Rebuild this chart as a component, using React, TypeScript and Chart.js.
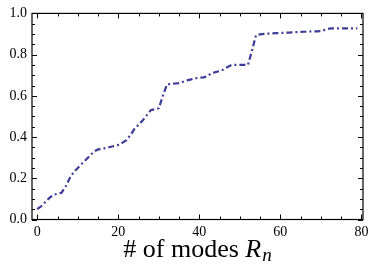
import React, { useEffect, useRef } from "react";
import { Chart, registerables } from "chart.js";

Chart.register(...registerables);

const modes: number[] = [
  0, 1, 2, 3, 4, 5, 6, 7, 8, 9, 10, 11, 12, 13, 14, 15, 16, 17, 18, 19,
  20, 21, 22, 23, 24, 25, 26, 27, 28, 29, 30, 31, 32, 33, 34, 35, 36, 37, 38, 39,
  40, 41, 42, 43, 44, 45, 46, 47, 48, 49, 50, 51, 52, 53, 54, 55, 56, 57, 58, 59,
  60, 61, 62, 63, 64, 65, 66, 67, 68, 69, 70, 71, 72, 73, 74, 75, 76, 77, 78, 79,
];
const values: number[] = [
  0.05, 0.065, 0.085, 0.105, 0.12, 0.125, 0.13, 0.16, 0.2, 0.23,
  0.25, 0.27, 0.29, 0.31, 0.33, 0.34, 0.343, 0.347, 0.352, 0.357,
  0.362, 0.372, 0.385, 0.41, 0.44, 0.46, 0.48, 0.505, 0.53, 0.535,
  0.54, 0.6, 0.655, 0.658, 0.66, 0.662, 0.668, 0.675, 0.68, 0.685,
  0.688, 0.69, 0.695, 0.71, 0.715, 0.72, 0.728, 0.74, 0.75, 0.75,
  0.75, 0.75, 0.75, 0.82, 0.895, 0.898, 0.901, 0.902, 0.903, 0.904,
  0.905, 0.906, 0.907, 0.908, 0.909, 0.91, 0.911, 0.912, 0.913, 0.913,
  0.914, 0.92, 0.926, 0.927, 0.927, 0.927, 0.927, 0.927, 0.927, 0.927,
];
const xMajorTicks: number[] = [0, 20, 40, 60, 80];
const xMinorTicks: number[] = [5, 10, 15, 25, 30, 35, 45, 50, 55, 65, 70, 75];
const yMajorTicks: number[] = [0, 0.2, 0.4, 0.6, 0.8, 1.0];
const yMinorTicks: number[] = [
  0.05, 0.1, 0.15, 0.25, 0.3, 0.35, 0.45, 0.5, 0.55, 0.65, 0.7, 0.75, 0.85, 0.9, 0.95,
];
const titleMain = "# of modes ";
const titleVar = "R";
const titleSub = "n";

const SERIF = "'Liberation Serif', 'DejaVu Serif', serif";

const framePlugin = {
  id: "frameTicks",
  afterDraw(chart: any) {
    const { ctx, chartArea } = chart;
    const { left, right, top, bottom } = chartArea;
    const xs = chart.scales.x;
    const ys = chart.scales.y;
    ctx.save();
    ctx.strokeStyle = "#000";
    ctx.lineWidth = 1;
    ctx.beginPath();
    const seg = (x1: number, y1: number, x2: number, y2: number) => {
      ctx.moveTo(x1, y1);
      ctx.lineTo(x2, y2);
    };
    const drawX = (vals: number[], len: number) => {
      vals.forEach((v) => {
        const p = Math.round(xs.getPixelForValue(v)) + 0.5;
        seg(p, bottom, p, bottom - len);
        seg(p, top, p, top + len);
      });
    };
    const drawY = (vals: number[], len: number) => {
      vals.forEach((v) => {
        const p = Math.round(ys.getPixelForValue(v)) + 0.5;
        seg(left, p, left + len, p);
        seg(right, p, right - len, p);
      });
    };
    drawX(xMajorTicks, 5);
    drawX(xMinorTicks, 3);
    drawY(yMajorTicks, 5);
    drawY(yMinorTicks, 3);
    ctx.stroke();
    ctx.lineWidth = 1.2;
    ctx.strokeRect(left, top, right - left, bottom - top);

    // axis title
    const mainFont = `26px ${SERIF}`;
    const varFont = `italic 26px ${SERIF}`;
    const subFont = `italic 19px ${SERIF}`;
    ctx.font = mainFont;
    const w1 = ctx.measureText(titleMain).width;
    ctx.font = varFont;
    const w2 = ctx.measureText(titleVar).width;
    ctx.font = subFont;
    const w3 = ctx.measureText(titleSub).width;
    const total = w1 + w2 + w3 + 1;
    const cx = (left + right) / 2;
    let x = cx - total / 2;
    const base = 257;
    ctx.fillStyle = "#000";
    ctx.textBaseline = "alphabetic";
    ctx.textAlign = "left";
    ctx.font = mainFont;
    ctx.fillText(titleMain, x, base);
    x += w1;
    ctx.font = varFont;
    ctx.fillText(titleVar, x, base);
    x += w2 + 1;
    ctx.font = subFont;
    ctx.fillText(titleSub, x, base + 4);
    ctx.restore();
  },
};

export default function App() {
  const ref = useRef<HTMLCanvasElement | null>(null);
  useEffect(() => {
    if (!ref.current) return;
    const chart = new Chart(ref.current, {
      type: "line",
      data: {
        datasets: [
          {
            data: modes.map((m, i) => ({ x: m, y: values[i] })),
            borderColor: "rgb(61,61,153)",
            borderWidth: 2.2,
            borderDash: [6, 3, 2, 3],
            pointRadius: 0,
            tension: 0,
            fill: false,
          },
        ],
      },
      options: {
        animation: false,
        responsive: false,
        maintainAspectRatio: false,
        layout: { padding: { top: 12, right: 13, left: 0, bottom: 0 } },
        plugins: { legend: { display: false }, tooltip: { enabled: false } },
        scales: {
          x: {
            type: "linear",
            min: -1.3,
            max: 80.4,
            grid: { display: false, drawTicks: false },
            border: { display: false },
            afterBuildTicks: (s: any) => {
              s.ticks = xMajorTicks.map((v) => ({ value: v }));
            },
            afterFit: (s: any) => {
              s.height = 48.5;
            },
            ticks: {
              padding: 4,
              maxRotation: 0,
              color: "#000",
              font: { family: SERIF, size: 14 },
              callback: (v: any) => String(v),
            },
          },
          y: {
            type: "linear",
            min: 0,
            max: 1,
            grid: { display: false, drawTicks: false },
            border: { display: false },
            afterBuildTicks: (s: any) => {
              s.ticks = yMajorTicks.map((v) => ({ value: v }));
            },
            afterFit: (s: any) => {
              s.width = 32;
            },
            ticks: {
              padding: 5,
              color: "#000",
              font: { family: SERIF, size: 14 },
              callback: (v: any) => Number(v).toFixed(1),
            },
          },
        },
      },
      plugins: [framePlugin],
    });
    return () => chart.destroy();
  }, []);
  return (
    <div style={{ position: "absolute", left: 0, top: 0, width: 376, height: 268, background: "#fff" }}>
      <canvas ref={ref} width={376} height={268} style={{ width: 376, height: 268, display: "block" }} />
    </div>
  );
}
